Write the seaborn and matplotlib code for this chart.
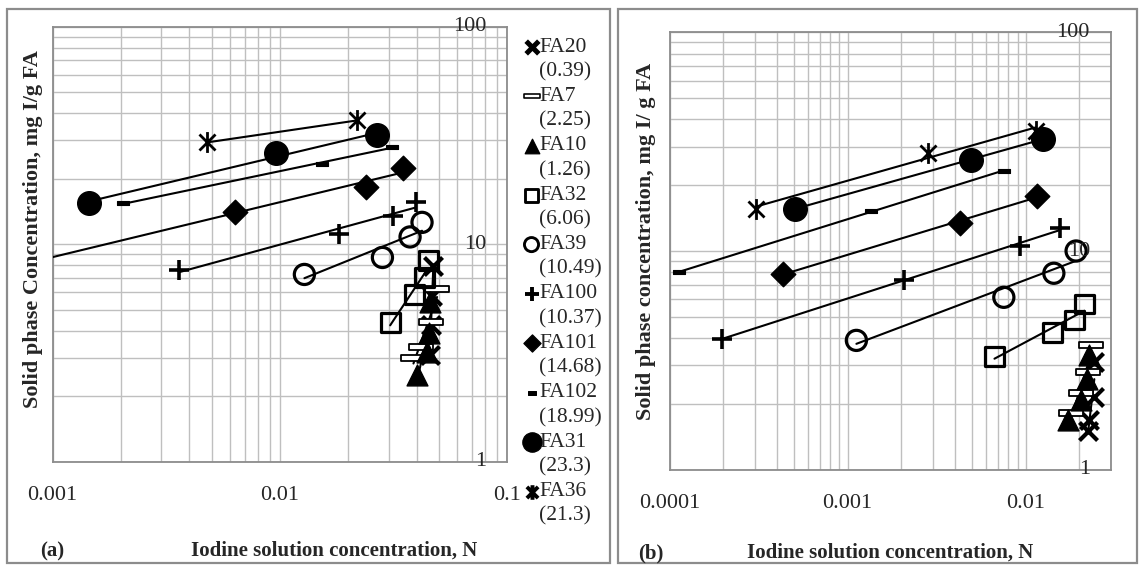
import numpy as np
import pandas as pd
import matplotlib
matplotlib.use("Agg")
import matplotlib.pyplot as plt
from matplotlib import ticker
from matplotlib.path import Path
from matplotlib.patches import Rectangle
import seaborn as sns

sns.set_theme(style="white")
plt.rcParams["font.family"] = ["Liberation Serif", "DejaVu Serif"]


# series names and the numbers shown in the legend
series = ["FA20", "FA7", "FA10", "FA32", "FA39", "FA100", "FA101", "FA102", "FA31", "FA36"]
legend_values = ["(0.39)", "(2.25)", "(1.26)", "(6.06)", "(10.49)",
                 "(10.37)", "(14.68)", "(18.99)", "(23.3)", "(21.3)"]

# ---- panel (a) ----
fa20_a_x = [0.0455, 0.0462, 0.0466, 0.0472]
fa20_a_y = [3.1, 4.25, 5.8, 7.9]
fa7_a_x = [0.0386, 0.0418, 0.0462, 0.049]
fa7_a_y = [3.0, 3.38, 4.41, 6.22]
fa10_a_x = [0.0402, 0.0442, 0.0452, 0.0455]
fa10_a_y = [2.5, 3.2, 3.9, 5.4]
fa32_a_x = [0.0305, 0.039, 0.0432, 0.0448]
fa32_a_y = [4.35, 5.87, 7.05, 8.4]
fa39_a_x = [0.0128, 0.0282, 0.0373, 0.0421]
fa39_a_y = [7.26, 8.69, 10.8, 12.6]
fa100_a_x = [0.0036, 0.0181, 0.0315, 0.0395]
fa100_a_y = [7.6, 11.1, 13.5, 15.7]
fa101_a_x = [0.00635, 0.0239, 0.0346]
fa101_a_y = [14.1, 18.3, 22.4]
fa102_a_x = [0.00205, 0.0153, 0.0311]
fa102_a_y = [15.4, 23.4, 28.1]
fa31_a_x = [0.00144, 0.0096, 0.0267]
fa31_a_y = [15.5, 26.2, 31.7]
fa36_a_x = [0.0048, 0.0219]
fa36_a_y = [29.4, 37.1]

# ---- panel (b) ----
fa20_b_x = [0.0225, 0.0228, 0.0243, 0.0243]
fa20_b_y = [1.50, 1.69, 2.15, 3.12]
fa7_b_x = [0.0180, 0.0205, 0.0223, 0.0233]
fa7_b_y = [1.81, 2.23, 2.80, 3.72]
fa10_b_x = [0.0172, 0.0205, 0.0221, 0.0228]
fa10_b_y = [1.69, 2.08, 2.60, 3.34]
fa32_b_x = [0.00668, 0.0141, 0.0188, 0.0214]
fa32_b_y = [3.29, 4.23, 4.83, 5.72]
fa39_b_x = [0.00112, 0.00754, 0.0144, 0.0192]
fa39_b_y = [3.90, 6.14, 7.91, 10.0]
fa100_b_x = [0.000198, 0.00207, 0.00925, 0.01556]
fa100_b_y = [3.97, 7.39, 10.5, 12.8]
fa101_b_x = [0.000435, 0.00425, 0.01153]
fa101_b_y = [7.88, 13.4, 17.9]
fa102_b_x = [0.000113, 0.001346, 0.00757]
fa102_b_y = [7.98, 15.3, 23.2]
fa31_b_x = [0.000508, 0.00491, 0.01253]
fa31_b_y = [15.6, 26.2, 32.5]
fa36_b_x = [0.000304, 0.00283, 0.01138]
fa36_b_y = [15.6, 28.2, 35.5]

panel_a = {
    "FA20": (fa20_a_x, fa20_a_y), "FA7": (fa7_a_x, fa7_a_y),
    "FA10": (fa10_a_x, fa10_a_y), "FA32": (fa32_a_x, fa32_a_y),
    "FA39": (fa39_a_x, fa39_a_y), "FA100": (fa100_a_x, fa100_a_y),
    "FA101": (fa101_a_x, fa101_a_y), "FA102": (fa102_a_x, fa102_a_y),
    "FA31": (fa31_a_x, fa31_a_y), "FA36": (fa36_a_x, fa36_a_y),
}
panel_b = {
    "FA20": (fa20_b_x, fa20_b_y), "FA7": (fa7_b_x, fa7_b_y),
    "FA10": (fa10_b_x, fa10_b_y), "FA32": (fa32_b_x, fa32_b_y),
    "FA39": (fa39_b_x, fa39_b_y), "FA100": (fa100_b_x, fa100_b_y),
    "FA101": (fa101_b_x, fa101_b_y), "FA102": (fa102_b_x, fa102_b_y),
    "FA31": (fa31_b_x, fa31_b_y), "FA36": (fa36_b_x, fa36_b_y),
}


# marker shapes
asterisk = Path([(-1, -1), (1, 1), (-1, 1), (1, -1), (0, -1.3), (0, 1.3)],
                [Path.MOVETO, Path.LINETO, Path.MOVETO, Path.LINETO, Path.MOVETO, Path.LINETO])
wide_bar = Path([(-1, -0.22), (1, -0.22), (1, 0.22), (-1, 0.22), (-1, -0.22)],
                [Path.MOVETO, Path.LINETO, Path.LINETO, Path.LINETO, Path.CLOSEPOLY])
small_bar = Path([(-1, -0.42), (1, -0.42), (1, 0.42), (-1, 0.42), (-1, -0.42)],
                 [Path.MOVETO, Path.LINETO, Path.LINETO, Path.LINETO, Path.CLOSEPOLY])

# marker, size (pt), face, edge, edge width
styles = {
    "FA20": ("x", 13, "black", "black", 3.0),
    "FA7": (wide_bar, 17, "white", "black", 1.3),
    "FA10": ("^", 15, "black", "black", 1.0),
    "FA32": ("s", 13.5, "none", "black", 2.3),
    "FA39": ("o", 14.5, "none", "black", 2.3),
    "FA100": ("+", 14, "black", "black", 2.6),
    "FA101": ("D", 12.5, "black", "black", 1.0),
    "FA102": (small_bar, 8, "black", "black", 0.8),
    "FA31": ("o", 17, "black", "black", 1.0),
    "FA36": (asterisk, 15, "black", "black", 2.0),
}

# trend lines that Excel extended to the left edge
trend_start = {("a", "FA101"): 0.001}

grid_col = "#BFBFBF"
frame_col = "#8C8C8C"

W, H = 1144, 566
fig = plt.figure(figsize=(W / 100, H / 100), dpi=100)

ax_a = fig.add_axes([52.5 / W, 1 - 461.7 / H, 455 / W, 435 / H])
ax_b = fig.add_axes([669.6 / W, 1 - 469.6 / H, 441 / W, 437.2 / H])


def draw_panel(ax, data, key, xlim):
    ax.set_xscale("log")
    ax.set_yscale("log")
    for name in series:
        xs, ys = data[name]
        lx, ly = np.log10(xs), np.log10(ys)
        slope, icpt = np.polyfit(lx, ly, 1)
        x0 = trend_start.get((key, name), min(xs))
        x_line = np.logspace(np.log10(x0), np.log10(max(xs)), 40)
        y_line = 10 ** (icpt + slope * np.log10(x_line))
        sns.lineplot(x=x_line, y=y_line, ax=ax, color="black", linewidth=1.5,
                     estimator=None, sort=False, zorder=3)

    for name in series:
        xs, ys = data[name]
        mk, ms, fc, ec, lw = styles[name]
        sns.scatterplot(x=xs, y=ys, ax=ax, marker=mk, s=ms ** 2,
                        color=fc, edgecolor=ec, linewidth=lw, zorder=4)

    ax.set_xlim(*xlim)
    ax.set_ylim(1, 100)
    ax.xaxis.set_major_locator(ticker.LogLocator(base=10, numticks=10))
    ax.xaxis.set_minor_locator(ticker.LogLocator(base=10, subs=range(2, 10), numticks=50))
    ax.yaxis.set_major_locator(ticker.LogLocator(base=10, numticks=10))
    ax.yaxis.set_minor_locator(ticker.LogLocator(base=10, subs=range(2, 10), numticks=50))
    ax.xaxis.set_major_formatter(ticker.FuncFormatter(lambda v, p: f"{v:g}"))
    ax.xaxis.set_minor_formatter(ticker.NullFormatter())
    ax.yaxis.set_minor_formatter(ticker.NullFormatter())
    ax.tick_params(axis="both", which="both", length=0)
    ax.tick_params(axis="x", labelsize=16, pad=17.5)
    ax.tick_params(axis="y", labelleft=False)
    ax.grid(True, which="both", color=grid_col, linewidth=1.0, zorder=0)
    ax.set_axisbelow(True)
    for sp in ax.spines.values():
        sp.set_color(frame_col)
        sp.set_linewidth(1.3)
    ax.set_xlabel("")
    ax.set_ylabel("")

    # y labels sit inside the plot, near the right edge
    for v in [1, 10, 100]:
        ax.text(0.953, v, f"{v:g}", transform=ax.get_yaxis_transform(),
                ha="right", va="center", fontsize=16, zorder=5)


draw_panel(ax_a, panel_a, "a", (0.001, 0.1))
draw_panel(ax_b, panel_b, "b", (0.0001, 0.03))


# panel frames
for x0, x1 in [(7, 610), (618, 1137)]:
    fig.patches.append(Rectangle((x0 / W, 1 - 563 / H), (x1 - x0) / W, (563 - 9) / H,
                                 transform=fig.transFigure, fill=False,
                                 edgecolor=frame_col, linewidth=1.6))

# axis titles
fig.text(40 / W, 1 - 551 / H, "(a)", ha="left", va="center", fontsize=15, fontweight="bold")
fig.text(334 / W, 1 - 551 / H, "Iodine solution concentration, N", ha="center", va="center",
         fontsize=15, fontweight="bold")
fig.text(638 / W, 1 - 553 / H, "(b)", ha="left", va="center", fontsize=15, fontweight="bold")
fig.text(890 / W, 1 - 553 / H, "Iodine solution concentration, N", ha="center", va="center",
         fontsize=15, fontweight="bold")
fig.text(33 / W, 1 - 229 / H, "Solid phase Concentration, mg I/g FA", rotation=90,
         ha="center", va="center", fontsize=16, fontweight="bold")
fig.text(646 / W, 1 - 241 / H, "Solid phase concentration, mg I/ g FA", rotation=90,
         ha="center", va="center", fontsize=16, fontweight="bold")


# legend, drawn in pixel coordinates of the figure
lax = fig.add_axes([0, 0, 1, 1])
lax.set_xlim(0, W)
lax.set_ylim(H, 0)
lax.axis("off")
first_row, entry_gap, line_gap = 47, 49.4, 24.7
legend_lw = {"FA20": 3.6, "FA36": 2.8, "FA100": 2.8}
for i, name in enumerate(series):
    yy = first_row + i * entry_gap
    mk, ms, fc, ec, lw = styles[name]
    scale = 0.7 if name not in ("FA31",) else 0.82
    lax.scatter([531.5], [yy], marker=mk, s=(ms * scale) ** 2, color=fc,
                edgecolor=ec, linewidths=legend_lw.get(name, lw * 0.9))
    lax.text(539, yy, name, ha="left", va="center", fontsize=15.5)
    lax.text(539, yy + line_gap, legend_values[i], ha="left", va="center", fontsize=15.5)

fig.savefig("out.png", dpi=100)
